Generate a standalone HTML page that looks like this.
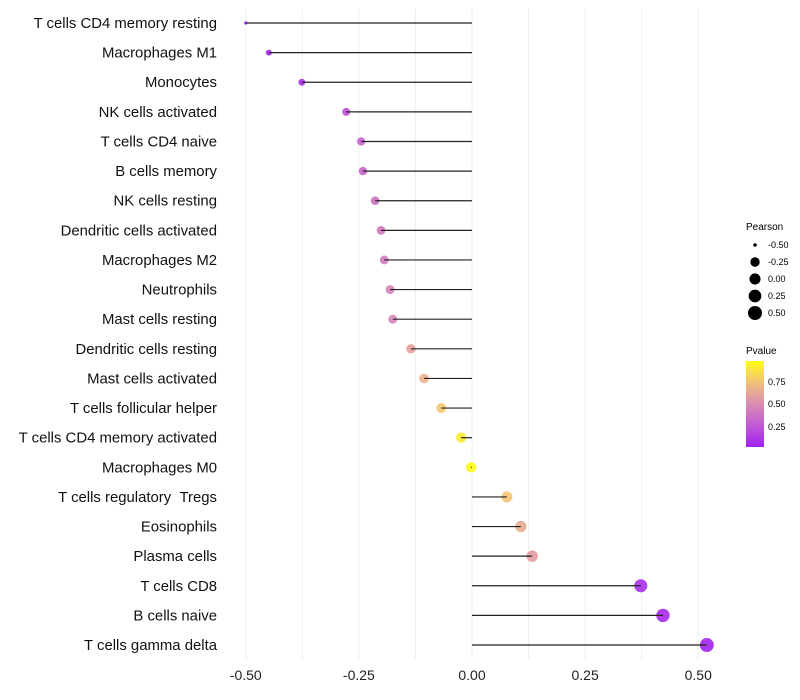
<!DOCTYPE html>
<html><head><meta charset="utf-8"><style>
body{margin:0;background:#fff;font-family:"Liberation Sans",sans-serif}
svg{display:block}
</style></head><body>
<svg id="chart" width="800" height="700">
<g id="grid"></g>
<g id="marks"></g>
<g id="ylabels"></g>
<g id="xlabels"></g>
<g font-size="9" fill="#000">
<text x="746" y="230" font-size="10">Pearson</text>
<g id="sizeLegend"></g>
</g>
<g>
<defs><linearGradient id="pg" x1="0" y1="1" x2="0" y2="0">
<stop offset="0" stop-color="#a020f0"/><stop offset="0.25" stop-color="#c25ad6"/><stop offset="0.5" stop-color="#da8cb2"/><stop offset="0.75" stop-color="#f2c07a"/><stop offset="1" stop-color="#ffff10"/></linearGradient></defs>
<text x="746" y="354" font-size="10">Pvalue</text>
<rect x="746" y="361" width="18" height="86" fill="url(#pg)"/>
<g font-size="9"><text x="768" y="385">0.75</text><text x="768" y="407">0.50</text><text x="768" y="430">0.25</text></g>
</g>
</svg>
<script>
const categories=["T cells CD4 memory resting","Macrophages M1","Monocytes","NK cells activated","T cells CD4 naive","B cells memory","NK cells resting","Dendritic cells activated","Macrophages M2","Neutrophils","Mast cells resting","Dendritic cells resting","Mast cells activated","T cells follicular helper","T cells CD4 memory activated","Macrophages M0","T cells regulatory \u00a0Tregs ","Eosinophils","Plasma cells","T cells CD8","B cells naive","T cells gamma delta"];
const pearson=[-0.50,-0.449,-0.376,-0.278,-0.245,-0.241,-0.214,-0.201,-0.194,-0.181,-0.175,-0.135,-0.106,-0.068,-0.024,-0.002,0.077,0.108,0.133,0.373,0.422,0.519];
const pvalue=[0.01,0.03,0.08,0.22,0.3,0.31,0.36,0.4,0.42,0.45,0.47,0.6,0.68,0.78,0.92,0.99,0.77,0.65,0.58,0.07,0.04,0.01];
const xTicks=[-0.5,-0.25,0,0.25,0.5];
const xTickLabels=["-0.50","-0.25","0.00","0.25","0.50"];
const sizeLegendVals=[-0.5,-0.25,0,0.25,0.5];
const ns="http://www.w3.org/2000/svg";
const x=v=>472+v*452.5;
const y=i=>23+i*29.62;
const rad=v=>v<=-0.49?1.6:Math.sqrt(6.9+41.2*(v+0.5));
const stops=[[0,[160,32,240]],[0.25,[194,90,214]],[0.5,[218,140,178]],[0.75,[242,192,122]],[1,[255,255,16]]];
function col(p){for(let k=1;k<stops.length;k++){if(p<=stops[k][0]){const a=stops[k-1],b=stops[k],t=(p-a[0])/(b[0]-a[0]);return "rgb("+a[1].map((c,j)=>Math.round(c+(b[1][j]-c)*t)).join(",")+")";}}return "rgb(255,255,16)";}
function mk(t,at,parent){const e=document.createElementNS(ns,t);for(const k in at)e.setAttribute(k,at[k]);parent.appendChild(e);return e;}
const grid=document.getElementById("grid"),marks=document.getElementById("marks"),yl=document.getElementById("ylabels"),xl=document.getElementById("xlabels");
for(let g=-0.5;g<=0.5001;g+=0.125){const l=mk("line",{x1:x(g),x2:x(g),y1:8,y2:660,stroke:"#efefef","stroke-width":1},grid);

}
categories.forEach((c,i)=>{
const pt=mk("circle",{cx:x(pearson[i]),cy:y(i),r:rad(pearson[i]),fill:col(pvalue[i]),"fill-opacity":0.9},marks);


const sg=mk("line",{x1:x(0),x2:x(pearson[i]),y1:y(i),y2:y(i),stroke:"#222","stroke-width":1.2},marks);


const t=mk("text",{x:217,y:y(i)+5,"text-anchor":"end","font-size":14.9,fill:"#111"},yl);t.textContent=c;


});
xTicks.forEach((v,i)=>{const t=mk("text",{x:x(v),y:680,"text-anchor":"middle","font-size":14,fill:"#222"},xl);t.textContent=xTickLabels[i];

});
const sl=document.getElementById("sizeLegend");
sizeLegendVals.forEach((v,i)=>{const cy=245+i*17;
const c=mk("circle",{cx:755,cy:cy,r:v<=-0.49?1.8:Math.sqrt(13+36*(v+0.5)),fill:"#000"},sl);


const t=mk("text",{x:768,y:cy+3,"font-size":9},sl);t.textContent=v.toFixed(2);

});
</script>
</body></html>
